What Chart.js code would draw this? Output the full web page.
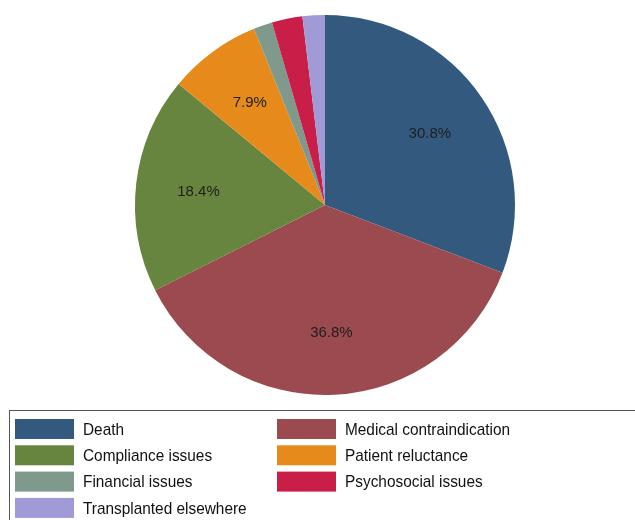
<!DOCTYPE html>
<html>
<head>
<meta charset="utf-8">
<script src="https://cdn.jsdelivr.net/npm/chart.js@4/dist/chart.umd.min.js"></script>
<style>
html,body{margin:0;padding:0;background:#fff;}
#wrap{position:relative;width:635px;height:520px;}
</style>
</head>
<body>
<div id="wrap"><canvas id="c" width="635" height="520"></canvas></div>
<script>
const categories = ["Death","Medical contraindication","Compliance issues","Patient reluctance","Financial issues","Psychosocial issues","Transplanted elsewhere"];
const shares = [30.8, 36.8, 18.4, 7.9, 1.6, 2.6, 1.9];
const sliceLabels = ["30.8%","36.8%","18.4%","7.9%","","",""];
const colors = ["#335a7e","#9b4a4f","#68853f","#e68b1b","#7f998c","#c81e47","#a09ad7"];

const sliceLabelPlugin = {
  id: 'sliceLabels',
  afterDatasetsDraw(chart) {
    const ctx = chart.ctx;
    const meta = chart.getDatasetMeta(0);
    ctx.save();
    ctx.font = '15px "Liberation Sans", Arial, sans-serif';
    ctx.fillStyle = '#1e1e1e';
    ctx.textAlign = 'center';
    ctx.textBaseline = 'middle';
    meta.data.forEach((arc, i) => {
      const t = sliceLabels[i];
      if (!t) return;
      const p = arc.getProps(['x','y','startAngle','endAngle','outerRadius'], true);
      const mid = (p.startAngle + p.endAngle) / 2;
      const r = p.outerRadius * 0.67;
      ctx.fillText(t, p.x + Math.cos(mid) * r, p.y + Math.sin(mid) * r + 1);
    });
    ctx.restore();
  }
};

const legendPlugin = {
  id: 'boxLegend',
  afterDraw(chart) {
    const ctx = chart.ctx;
    ctx.save();
    ctx.strokeStyle = '#555';
    ctx.lineWidth = 1;
    ctx.strokeRect(9.5, 410.5, 640, 130);
    ctx.font = '17px "Liberation Sans", Arial, sans-serif';
    ctx.textBaseline = 'middle';
    ctx.textAlign = 'left';
    const colX = [15, 277];
    const textX = [83, 345];
    const y0 = 419, rowH = 26.3;
    categories.forEach((c, i) => {
      const col = i % 2, row = Math.floor(i / 2);
      const y = y0 + row * rowH;
      ctx.fillStyle = colors[i];
      ctx.fillRect(colX[col], y, 59, 20);
      ctx.fillStyle = '#111';
      ctx.save();
      ctx.translate(textX[col], y + 11);
      ctx.scale(0.905, 1);
      ctx.fillText(c, 0, 0);
      ctx.restore();
    });
    ctx.restore();
  }
};

new Chart(document.getElementById('c'), {
  type: 'pie',
  data: {
    labels: categories,
    datasets: [{
      data: shares,
      backgroundColor: colors,
      borderWidth: 0
    }]
  },
  options: {
    responsive: false,
    animation: false,
    layout: { padding: { top: 15, bottom: 125, left: 135, right: 120 } },
    plugins: {
      legend: { display: false },
      tooltip: { enabled: false }
    }
  },
  plugins: [sliceLabelPlugin, legendPlugin]
});
</script>
</body>
</html>
